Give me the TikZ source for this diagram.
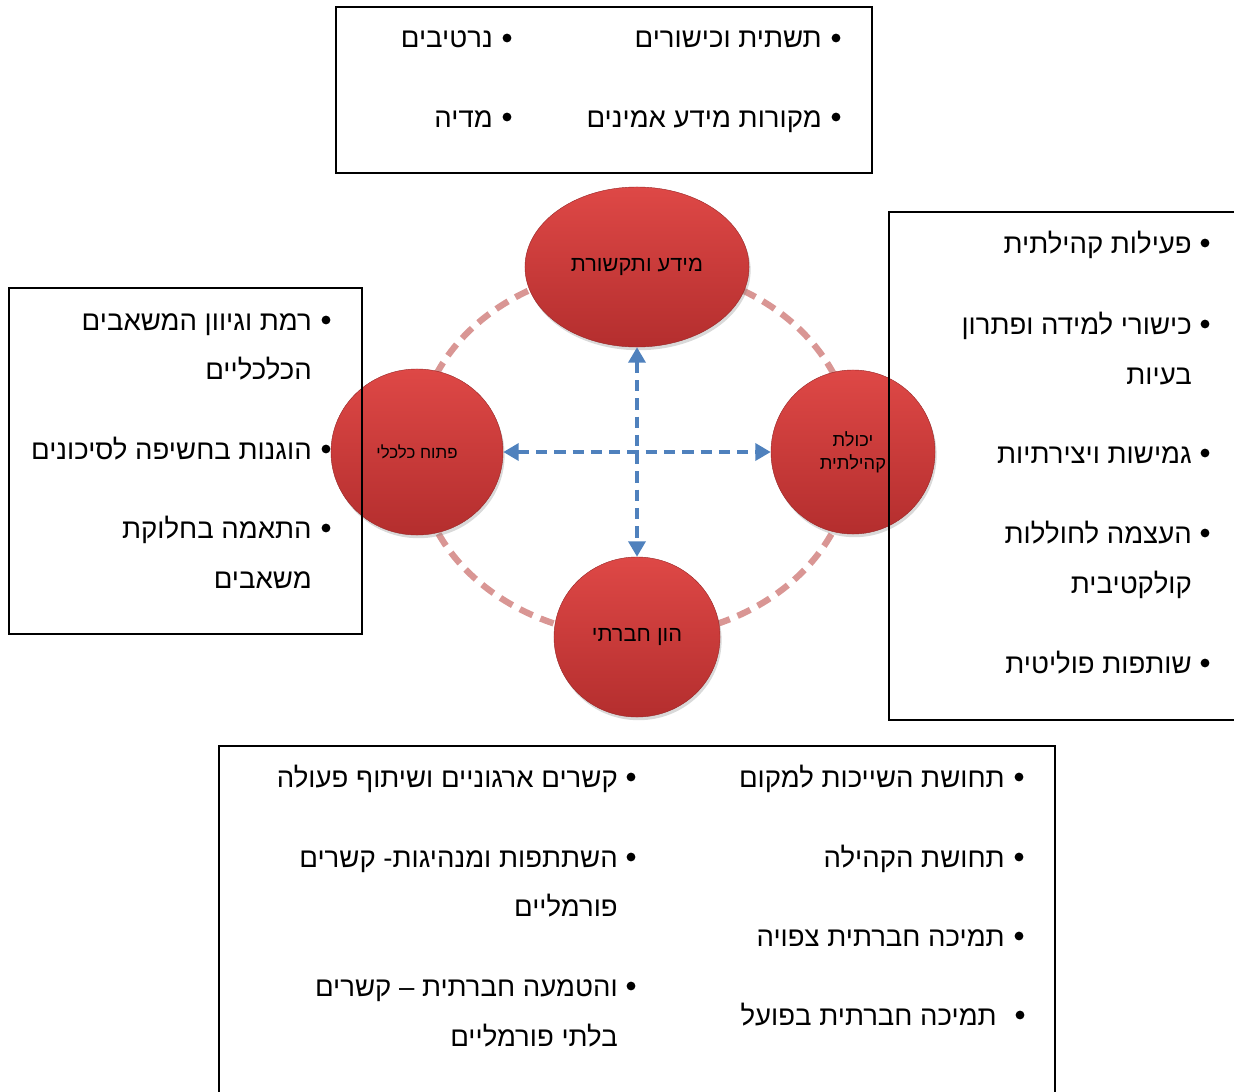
\documentclass[tikz,border=0pt]{standalone}
\usepackage{fontspec}
\usetikzlibrary{shapes.geometric,arrows.meta,shadows,backgrounds}
\TeXXeTstate=1
\newfontfamily\hebfont[Script=Hebrew]{Liberation Sans}
\definecolor{ringpink}{RGB}{217,150,148}
\definecolor{linkblue}{RGB}{79,129,189}
\definecolor{ballred}{RGB}{222,72,70}
\definecolor{balldark}{RGB}{180,46,46}

\begin{document}
\begin{tikzpicture}[x=0.025cm, y=0.025cm,
    panel/.style={draw=black, line width=1.3pt},
    item/.style={font=\hebfont\fontsize{19.6}{24}\selectfont, anchor=base east, inner sep=0pt},
    ball/.style={ellipse, top color=ballred, bottom color=balldark, draw=balldark!85!black, line width=0.3pt,
        drop shadow={opacity=0.3, shadow xshift=0.4mm, shadow yshift=-0.8mm}, align=center, inner sep=0pt},
    ring/.style={draw=ringpink, line width=4.5pt, dash pattern=on 10pt off 6pt},
    link/.style={draw=linkblue, line width=3.4pt, dash pattern=on 8pt off 5pt,
        {Triangle[length=11pt,width=12pt]}-{Triangle[length=11pt,width=12pt]}}]
    \useasboundingbox (0,0) rectangle (1234,-1091);
    \clip (0,0) rectangle (1234,-1091);

    % the four circles
    \node[ball, minimum width=5.6cm, minimum height=4cm, font=\hebfont\fontsize{15.5}{18}\selectfont] (info) at (637,-267) {\beginR מידע ותקשורת\endR};
    \node[ball, minimum width=4.3cm, minimum height=4.15cm, font=\hebfont\fontsize{12}{14}\selectfont] (econ) at (417,-452) {\beginR פתוח כלכלי\endR};
    \node[ball, minimum width=4.1cm, minimum height=4.1cm, font=\hebfont\fontsize{13}{16.5}\selectfont] (community) at (853,-452) {\beginR יכולת\endR\\\beginR קהילתית\endR};
    \node[ball, minimum width=4.15cm, minimum height=4cm, font=\hebfont\fontsize{15.5}{18}\selectfont] (social) at (637,-637) {\beginR הון חברתי\endR};

    \begin{scope}[on background layer]
        \draw[ring] (info.center) to[out=180,in=90] (econ.center) to[out=-90,in=180] (social.center)
            to[out=0,in=-90] (community.center) to[out=90,in=0] (info.center);
    \end{scope}

    \draw[link] (info) -- (social);
    \draw[link] (econ) -- (community);

    % boxes
    \draw[panel] (336,-7) rectangle (872,-173);
    \draw[panel] (889,-212) rectangle (1245,-720);
    \draw[panel] (9,-288) rectangle (362,-634);
    \draw[panel] (219,-746) rectangle (1055,-1100);

    % bullets
    \foreach \x/\y in {836/38, 836/117, 507/38, 507/117,
                       1205/243, 1205/324, 1205/453, 1205/533, 1205/663,
                       326/320, 326/449, 326/528,
                       1019/777, 1019/857, 1019/936, 1020/1015,
                       631/777, 631/857, 631/986}
        \fill (\x,-\y) circle (4.4);

    % top box
    \node[item] (top1) at (822,-48) {\beginR תשתית וכישורים\endR};
    \node[item] (top2) at (822,-127) {\beginR מקורות מידע אמינים\endR};
    \node[item] (top3) at (493,-48) {\beginR נרטיבים\endR};
    \node[item] (top4) at (493,-127) {\beginR מדיה\endR};

    % right box
    \node[item] (right1) at (1192,-253) {\beginR פעילות קהילתית\endR};
    \node[item] (right2) at (1192,-334) {\beginR כישורי למידה ופתרון\endR};
    \node[item] (right2b) at (1192,-384) {\beginR בעיות\endR};
    \node[item] (right3) at (1192,-463) {\beginR גמישות ויצירתיות\endR};
    \node[item] (right4) at (1192,-543) {\beginR העצמה לחוללות\endR};
    \node[item] (right4b) at (1192,-593) {\beginR קולקטיבית\endR};
    \node[item] (right5) at (1192,-673) {\beginR שותפות פוליטית\endR};

    % left box
    \node[item] (left1) at (312,-330) {\beginR רמת וגיוון המשאבים\endR};
    \node[item] (left1b) at (312,-379) {\beginR הכלכליים\endR};
    \node[item] (left2) at (312,-459) {\beginR הוגנות בחשיפה לסיכונים\endR};
    \node[item] (left3) at (312,-538) {\beginR התאמה בחלוקת\endR};
    \node[item] (left3b) at (312,-588) {\beginR משאבים\endR};

    % bottom box
    \node[item] (bot1) at (1005,-787) {\beginR תחושת השייכות למקום\endR};
    \node[item] (bot2) at (1005,-867) {\beginR תחושת הקהילה\endR};
    \node[item] (bot3) at (1005,-946) {\beginR תמיכה חברתית צפויה\endR};
    \node[item] (bot4) at (997,-1025) {\beginR תמיכה חברתית בפועל\endR};
    \node[item] (bot5) at (618,-787) {\beginR קשרים ארגוניים ושיתוף פעולה\endR};
    \node[item] (bot6) at (618,-867) {\beginR השתתפות ומנהיגות- קשרים\endR};
    \node[item] (bot6b) at (618,-916) {\beginR פורמליים\endR};
    \node[item] (bot7) at (618,-996) {\beginR והטמעה חברתית – קשרים\endR};
    \node[item] (bot7b) at (618,-1046) {\beginR בלתי פורמליים\endR};
\end{tikzpicture}
\end{document}
